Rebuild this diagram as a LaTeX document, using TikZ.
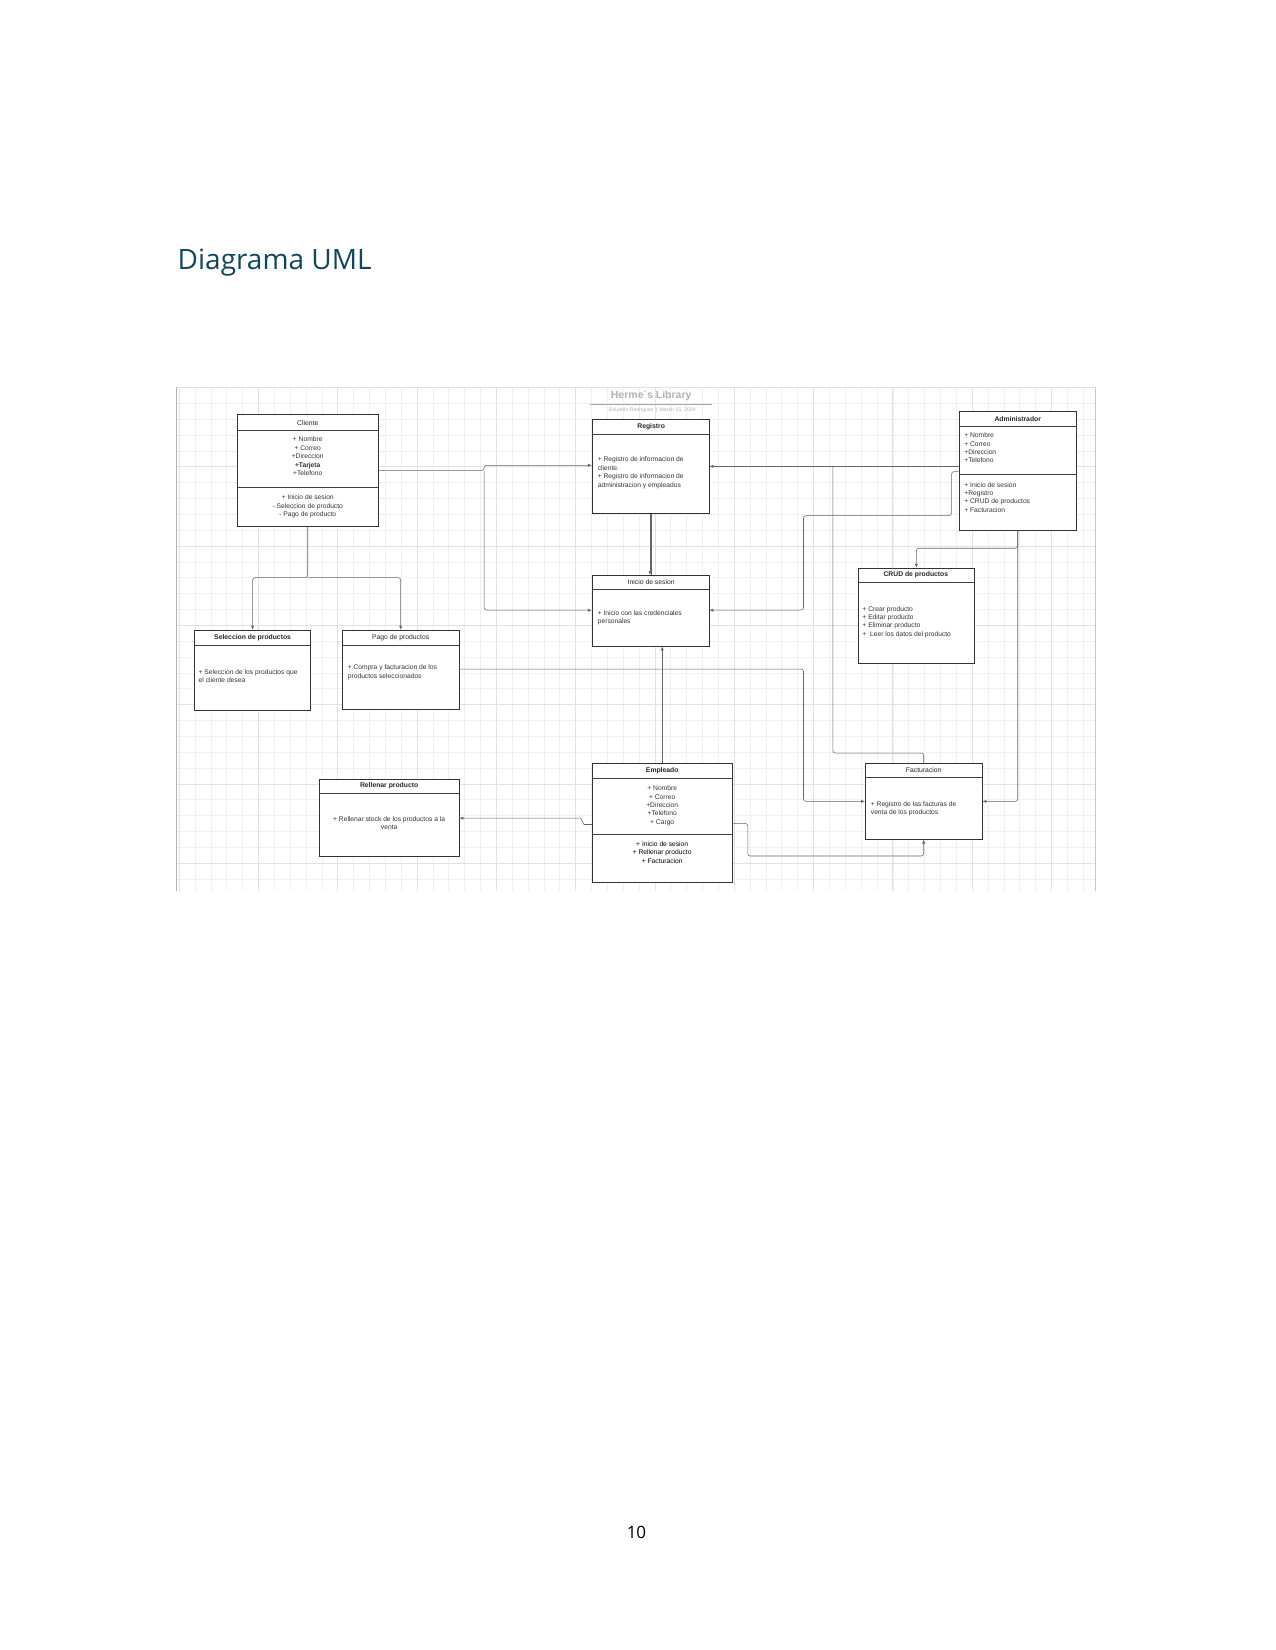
\documentclass[tikz,border=0pt]{standalone}
\usepackage{fontspec}
\setmainfont{Liberation Sans}
\newfontfamily\titlefont{Open Sans}
\usetikzlibrary{arrows.meta,fit}
\definecolor{headblue}{HTML}{0F4761}
\definecolor{gridminor}{HTML}{F0F0F0}
\definecolor{gridmajor}{HTML}{E2E2E2}
\begin{document}
\begin{tikzpicture}[x=1.0502pt,y=-1.0502pt,
  box/.style={draw=black!80, line width=0.8pt, fill=white, inner sep=0pt},
  sepline/.style={draw=black!75, line width=0.7pt},
  conn/.style={draw=black!60, line width=0.55pt, rounded corners=2.5pt},
  arr/.style={conn, -{Latex[length=4pt,width=3.2pt]}},
  hd/.style={font=\fontsize{6.8}{8}\selectfont, inner sep=0pt, text=black!85},
  hdb/.style={font=\bfseries\fontsize{6.8}{8}\selectfont, inner sep=0pt, text=black!85},
  bd/.style={font=\fontsize{6.7}{8.4}\selectfont, inner sep=0pt, text=black!80, align=left},
  bdc/.style={bd, align=center, anchor=north},
  gridl/.style={draw=gridminor, line width=0.5pt},
  gridm/.style={draw=gridmajor, line width=0.6pt}
]
\useasboundingbox (0,0) rectangle (1214,1571);

% heading and page number
\node[anchor=base west, font=\titlefont\fontsize{28}{31}\selectfont, text=headblue, inner sep=0pt] (title) at (169,257) {Diagrama UML};
\node[anchor=base, font=\titlefont\fontsize{17}{20}\selectfont, inner sep=0pt] (pnum) at (606,1465) {10};

% grid background
\foreach \i in {0,...,57} {\draw[gridl] (170.5+15.1*\i,368) -- (170.5+15.1*\i,848);}
\foreach \j in {0,...,31} {\draw[gridl] (168,368.8+15.1*\j) -- (1043,368.8+15.1*\j);}
\foreach \i in {0,5,...,55} {\draw[gridm] (170.5+15.1*\i,368) -- (170.5+15.1*\i,848);}
\foreach \j in {0,5,...,30} {\draw[gridm] (168,368.8+15.1*\j) -- (1043,368.8+15.1*\j);}
\draw[draw=black!30, line width=1.4pt] (168,368) -- (168,848);
\draw[draw=black!22, line width=1pt] (1043,368) -- (1043,848);

% diagram title
\node[font=\bfseries\fontsize{10.5}{12}\selectfont, text=black!30, inner sep=0pt] (lib) at (620,377) {Herme´s Library};
\coordinate (ul1) at (562,385);
\coordinate (ul2) at (678,385);
\draw[draw=black!35, line width=0.6pt] (ul1) -- (ul2);
\node[font=\fontsize{5.2}{6}\selectfont, text=black!30, inner sep=0pt] (author) at (621,391) {Eduardo Rodriguez \,|\, March 15, 2024};

% ---------- boxes ----------
% Cliente
\path (226,395) coordinate (c1) (360,501) coordinate (c2);
\node[box, fit=(c1)(c2)] (cliente) {};
\draw[sepline] (cliente.west|-0,410) -- (cliente.east|-0,410);
\draw[sepline] (cliente.west|-0,464) -- (cliente.east|-0,464);
\node[hd] (clienteH) at (293,402.5) {Cliente};
\node[bdc] (clienteA) at (293,416) {+ Nombre\\+ Correo\\+Direccion\\\textbf{+Tarjeta}\\+Telefono};
\node[bdc] (clienteM) at (293,471) {+ Inicio de sesion\\- Seleccion de producto\\- Pago de producto};

% Registro
\path (564,399) coordinate (r1) (675,489) coordinate (r2);
\node[box, fit=(r1)(r2)] (registro) {};
\draw[sepline] (registro.west|-0,414) -- (registro.east|-0,414);
\node[hdb] (registroH) at (620,406.5) {Registro};
\node[bd, anchor=north west] (registroB) at (569,435) {+ Registro de informacion de\\cliente.\\+ Registro de informacion de\\administracion y empleados};

% Administrador
\path (913,392) coordinate (a1) (1025,505) coordinate (a2);
\node[box, fit=(a1)(a2)] (admin) {};
\draw[sepline] (admin.west|-0,406) -- (admin.east|-0,406);
\draw[sepline] (admin.west|-0,452) -- (admin.east|-0,452);
\node[hdb] (adminH) at (969,399) {Administrador};
\node[bd, anchor=north west] (adminA) at (918,412) {+ Nombre\\+ Correo\\+Direccion\\+Telefono};
\node[bd, anchor=north west] (adminM) at (918,459) {+ Inicio de sesion\\+Registro\\+ CRUD de productos\\+ Facturacion};

% Inicio de sesion
\path (564,548) coordinate (i1) (675,615) coordinate (i2);
\node[box, fit=(i1)(i2)] (inicio) {};
\draw[sepline] (inicio.west|-0,561) -- (inicio.east|-0,561);
\node[hd] (inicioH) at (620,554.5) {Inicio de sesion};
\node[bd, anchor=north west] (inicioB) at (569,581) {+ Inicio con las credenciales\\personales};

% CRUD de productos
\path (817,541) coordinate (k1) (928,632) coordinate (k2);
\node[box, fit=(k1)(k2)] (crud) {};
\draw[sepline] (crud.west|-0,554) -- (crud.east|-0,554);
\node[hdb] (crudH) at (872,547.5) {CRUD de productos};
\node[bd, anchor=north west] (crudB) at (821,577) {+ Crear producto\\+ Editar producto\\+ Eliminar producto\\+ \ Leer los datos del producto};

% Seleccion de productos
\path (185,600) coordinate (s1) (296,676) coordinate (s2);
\node[box, fit=(s1)(s2)] (selec) {};
\draw[sepline] (selec.west|-0,614) -- (selec.east|-0,614);
\node[hdb] (selecH) at (240.5,607) {Seleccion de productos};
\node[bd, anchor=north west] (selecB) at (189,637) {+ Seleccion de los productos que\\el cliente desea};

% Pago de productos
\path (326,600) coordinate (p1) (437,675) coordinate (p2);
\node[box, fit=(p1)(p2)] (pago) {};
\draw[sepline] (pago.west|-0,614) -- (pago.east|-0,614);
\node[hd] (pagoH) at (381.5,607) {Pago de productos};
\node[bd, anchor=north west] (pagoB) at (331,633) {+ Compra y facturacion de los\\productos seleccionados};

% Rellenar producto
\path (304,742) coordinate (f1) (437,815) coordinate (f2);
\node[box, fit=(f1)(f2)] (rellenar) {};
\draw[sepline] (rellenar.west|-0,755) -- (rellenar.east|-0,755);
\node[hdb] (rellenarH) at (370.5,748.5) {Rellenar producto};
\node[bdc] (rellenarB) at (370.5,777) {+ Rellenar stock de los productos a la\\venta};

% Empleado
\path (564,727) coordinate (e1) (697,840) coordinate (e2);
\node[box, fit=(e1)(e2)] (empleado) {};
\draw[sepline] (empleado.west|-0,741) -- (empleado.east|-0,741);
\draw[sepline] (empleado.west|-0,794) -- (empleado.east|-0,794);
\node[hdb] (empleadoH) at (630.5,734) {Empleado};
\node[bdc] (empleadoA) at (630.5,748) {+ Nombre\\+ Correo\\+Direccion\\+Telefono\\+ Cargo};
\node[bdc, text=black] (empleadoM) at (630.5,801) {+ Inicio de sesion\\+ Rellenar producto\\+ Facturacion};

% Facturacion
\path (824,727) coordinate (t1) (935,799) coordinate (t2);
\node[box, fit=(t1)(t2)] (factura) {};
\draw[sepline] (factura.west|-0,740) -- (factura.east|-0,740);
\node[hd] (facturaH) at (879.5,733.5) {Facturacion};
\node[bd, anchor=north west] (facturaB) at (829,763) {+ Registro de las facturas de\\venta de los productos};

% ---------- connectors ----------
\coordinate (jc) at (461,448);
\draw[arr] (cliente.east|-0,448) -- (jc) |- (registro.west|-0,443);
\draw[arr] (jc) |- (inicio.west|-0,581);

\draw[arr] (admin.west|-0,444) -- (registro.east|-0,444);
\coordinate (jf) at (793,444);
\draw[conn] (factura.north) -- (factura.north|-0,717) -| (jf);

\draw[arr] (admin.west|-0,449) -- (906,449) -- (906,491) -- (765,491) |- (inicio.east|-0,581);

\draw[arr] (admin.south) -- (admin.south|-0,522) -| (crud.north);
\draw[arr] (admin.south) |- (factura.east|-0,763);

\draw[arr] ([xshift=-0.6pt]registro.south) -- ([xshift=-0.6pt]inicio.north);
\draw[conn] ([xshift=0.9pt]registro.south) -- ([xshift=0.9pt]inicio.north);

\draw[arr] (empleado.north) -- (empleado.north|-inicio.south);

\coordinate (jcl) at (293,550);
\draw[arr] (cliente.south) -- (jcl) -| (selec.north);
\draw[arr] (jcl) -| (pago.north);

\draw[arr] (pago.east|-0,637) -- (765,637) |- (factura.west|-0,763);

\draw[arr, rounded corners=0pt] (empleado.west|-0,785) -- (556,785) -- (553,779) -- (rellenar.east|-0,779);

\draw[arr] (empleado.east|-0,784) -- (712,784) -- (712,815) -| (factura.south);

\end{tikzpicture}
\end{document}
